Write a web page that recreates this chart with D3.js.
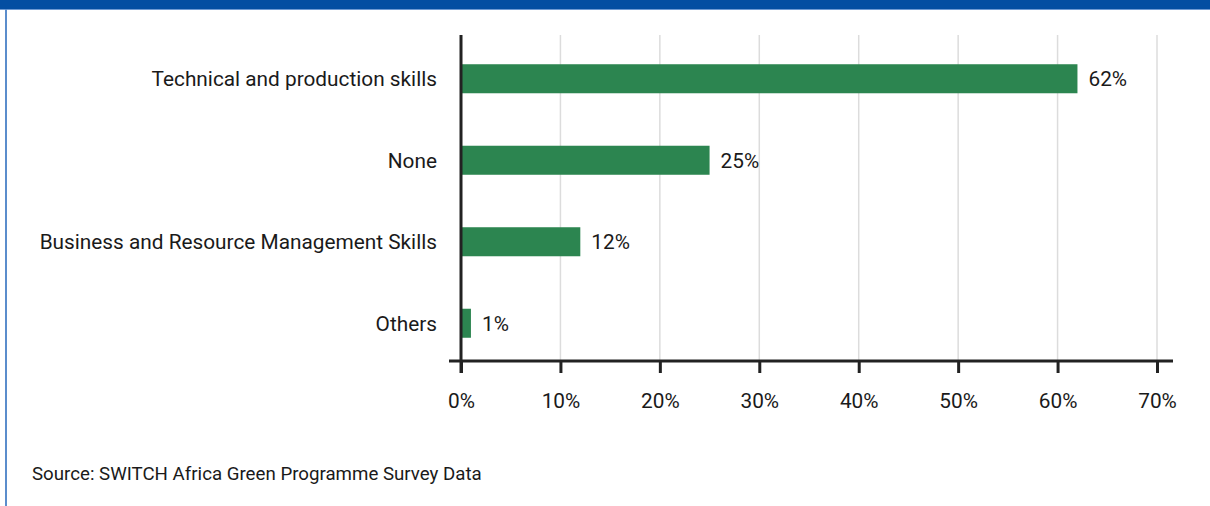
<!DOCTYPE html>
<html>
<head>
<meta charset="utf-8">
<script src="https://cdn.jsdelivr.net/npm/d3@7/dist/d3.min.js"></script>
<style>
  html, body { margin: 0; padding: 0; background: #fff; }
  svg { display: block; font-family: Roboto, "Noto Sans", sans-serif; }
</style>
</head>
<body>
<svg id="chart" width="1210" height="506"></svg>
<script>
// Skills categories and shares of respondents (%)
const categories = [
  "Technical and production skills",
  "None",
  "Business and Resource Management Skills",
  "Others"
];
const shares = [62, 25, 12, 1];
const tickValues = [0, 10, 20, 30, 40, 50, 60, 70];
const sourceNote = "Source: SWITCH Africa Green Programme Survey Data";

const svg = d3.select("#chart");
const W = 1210, H = 506;
const FS = 20.8;

// Frame: top banner and left rule
svg.append("rect").attr("x", 0).attr("y", 0).attr("width", W).attr("height", 9).attr("fill", "#034ea2");
svg.append("rect").attr("x", 0).attr("y", 9).attr("width", W).attr("height", 1).attr("fill", "#6e9ad3");
svg.append("rect").attr("x", 5).attr("y", 9).attr("width", 2).attr("height", H - 9).attr("fill", "#5b8dcc");

const plot = { left: 461, right: 1157, top: 35, bottom: 361 };

const x = d3.scaleLinear().domain([0, 70]).range([plot.left, plot.right]);
const y = d3.scaleBand().domain(categories).range([plot.top + 3, plot.bottom + 3]).paddingInner(0.644).paddingOuter(0.322);

const data = categories.map((c, i) => ({ cat: c, v: shares[i] }));

// Vertical gridlines
svg.append("g").selectAll("line")
  .data(tickValues.filter(t => t > 0))
  .join("line")
  .attr("x1", d => x(d)).attr("x2", d => x(d))
  .attr("y1", plot.top).attr("y2", plot.bottom)
  .attr("stroke", "#dcdcdc").attr("stroke-width", 1.5);

// Bars
svg.append("g").selectAll("rect")
  .data(data)
  .join("rect")
  .attr("x", x(0))
  .attr("y", d => y(d.cat))
  .attr("width", d => x(d.v) - x(0))
  .attr("height", y.bandwidth())
  .attr("fill", "#2c8550");

// Value labels
svg.append("g").selectAll("text")
  .data(data)
  .join("text")
  .attr("x", d => x(d.v) + 11)
  .attr("y", d => y(d.cat) + y.bandwidth() / 2)
  .attr("dy", "0.35em")
  .attr("font-size", FS)
  .attr("fill", "#1a1a1a")
  .text(d => d.v + "%");

// Category labels
svg.append("g").selectAll("text")
  .data(data)
  .join("text")
  .attr("x", 437)
  .attr("y", d => y(d.cat) + y.bandwidth() / 2)
  .attr("dy", "0.35em")
  .attr("text-anchor", "end")
  .attr("font-size", FS)
  .attr("fill", "#1a1a1a")
  .text(d => d.cat);

// X axis
const xAxis = d3.axisBottom(x)
  .tickValues(tickValues)
  .tickFormat(d => d + "%")
  .tickSize(12)
  .tickPadding(20);
const gx = svg.append("g").attr("transform", `translate(0,${plot.bottom})`).call(xAxis);
gx.select(".domain").remove();
gx.selectAll(".tick line").attr("stroke", "#222").attr("stroke-width", 3).attr("y1", 0);
gx.selectAll(".tick text").attr("font-size", FS).attr("fill", "#1a1a1a").attr("font-family", "Roboto, sans-serif");
svg.append("line")
  .attr("x1", 449).attr("x2", 1173)
  .attr("y1", plot.bottom).attr("y2", plot.bottom)
  .attr("stroke", "#222").attr("stroke-width", 3);

// Y axis line
svg.append("line")
  .attr("x1", x(0)).attr("x2", x(0))
  .attr("y1", plot.top).attr("y2", plot.bottom + 12)
  .attr("stroke", "#222").attr("stroke-width", 3);

// Source note
svg.append("text")
  .attr("x", 32).attr("y", 480)
  .attr("font-size", 18.7)
  .attr("fill", "#1a1a1a")
  .text(sourceNote);
</script>
</body>
</html>
